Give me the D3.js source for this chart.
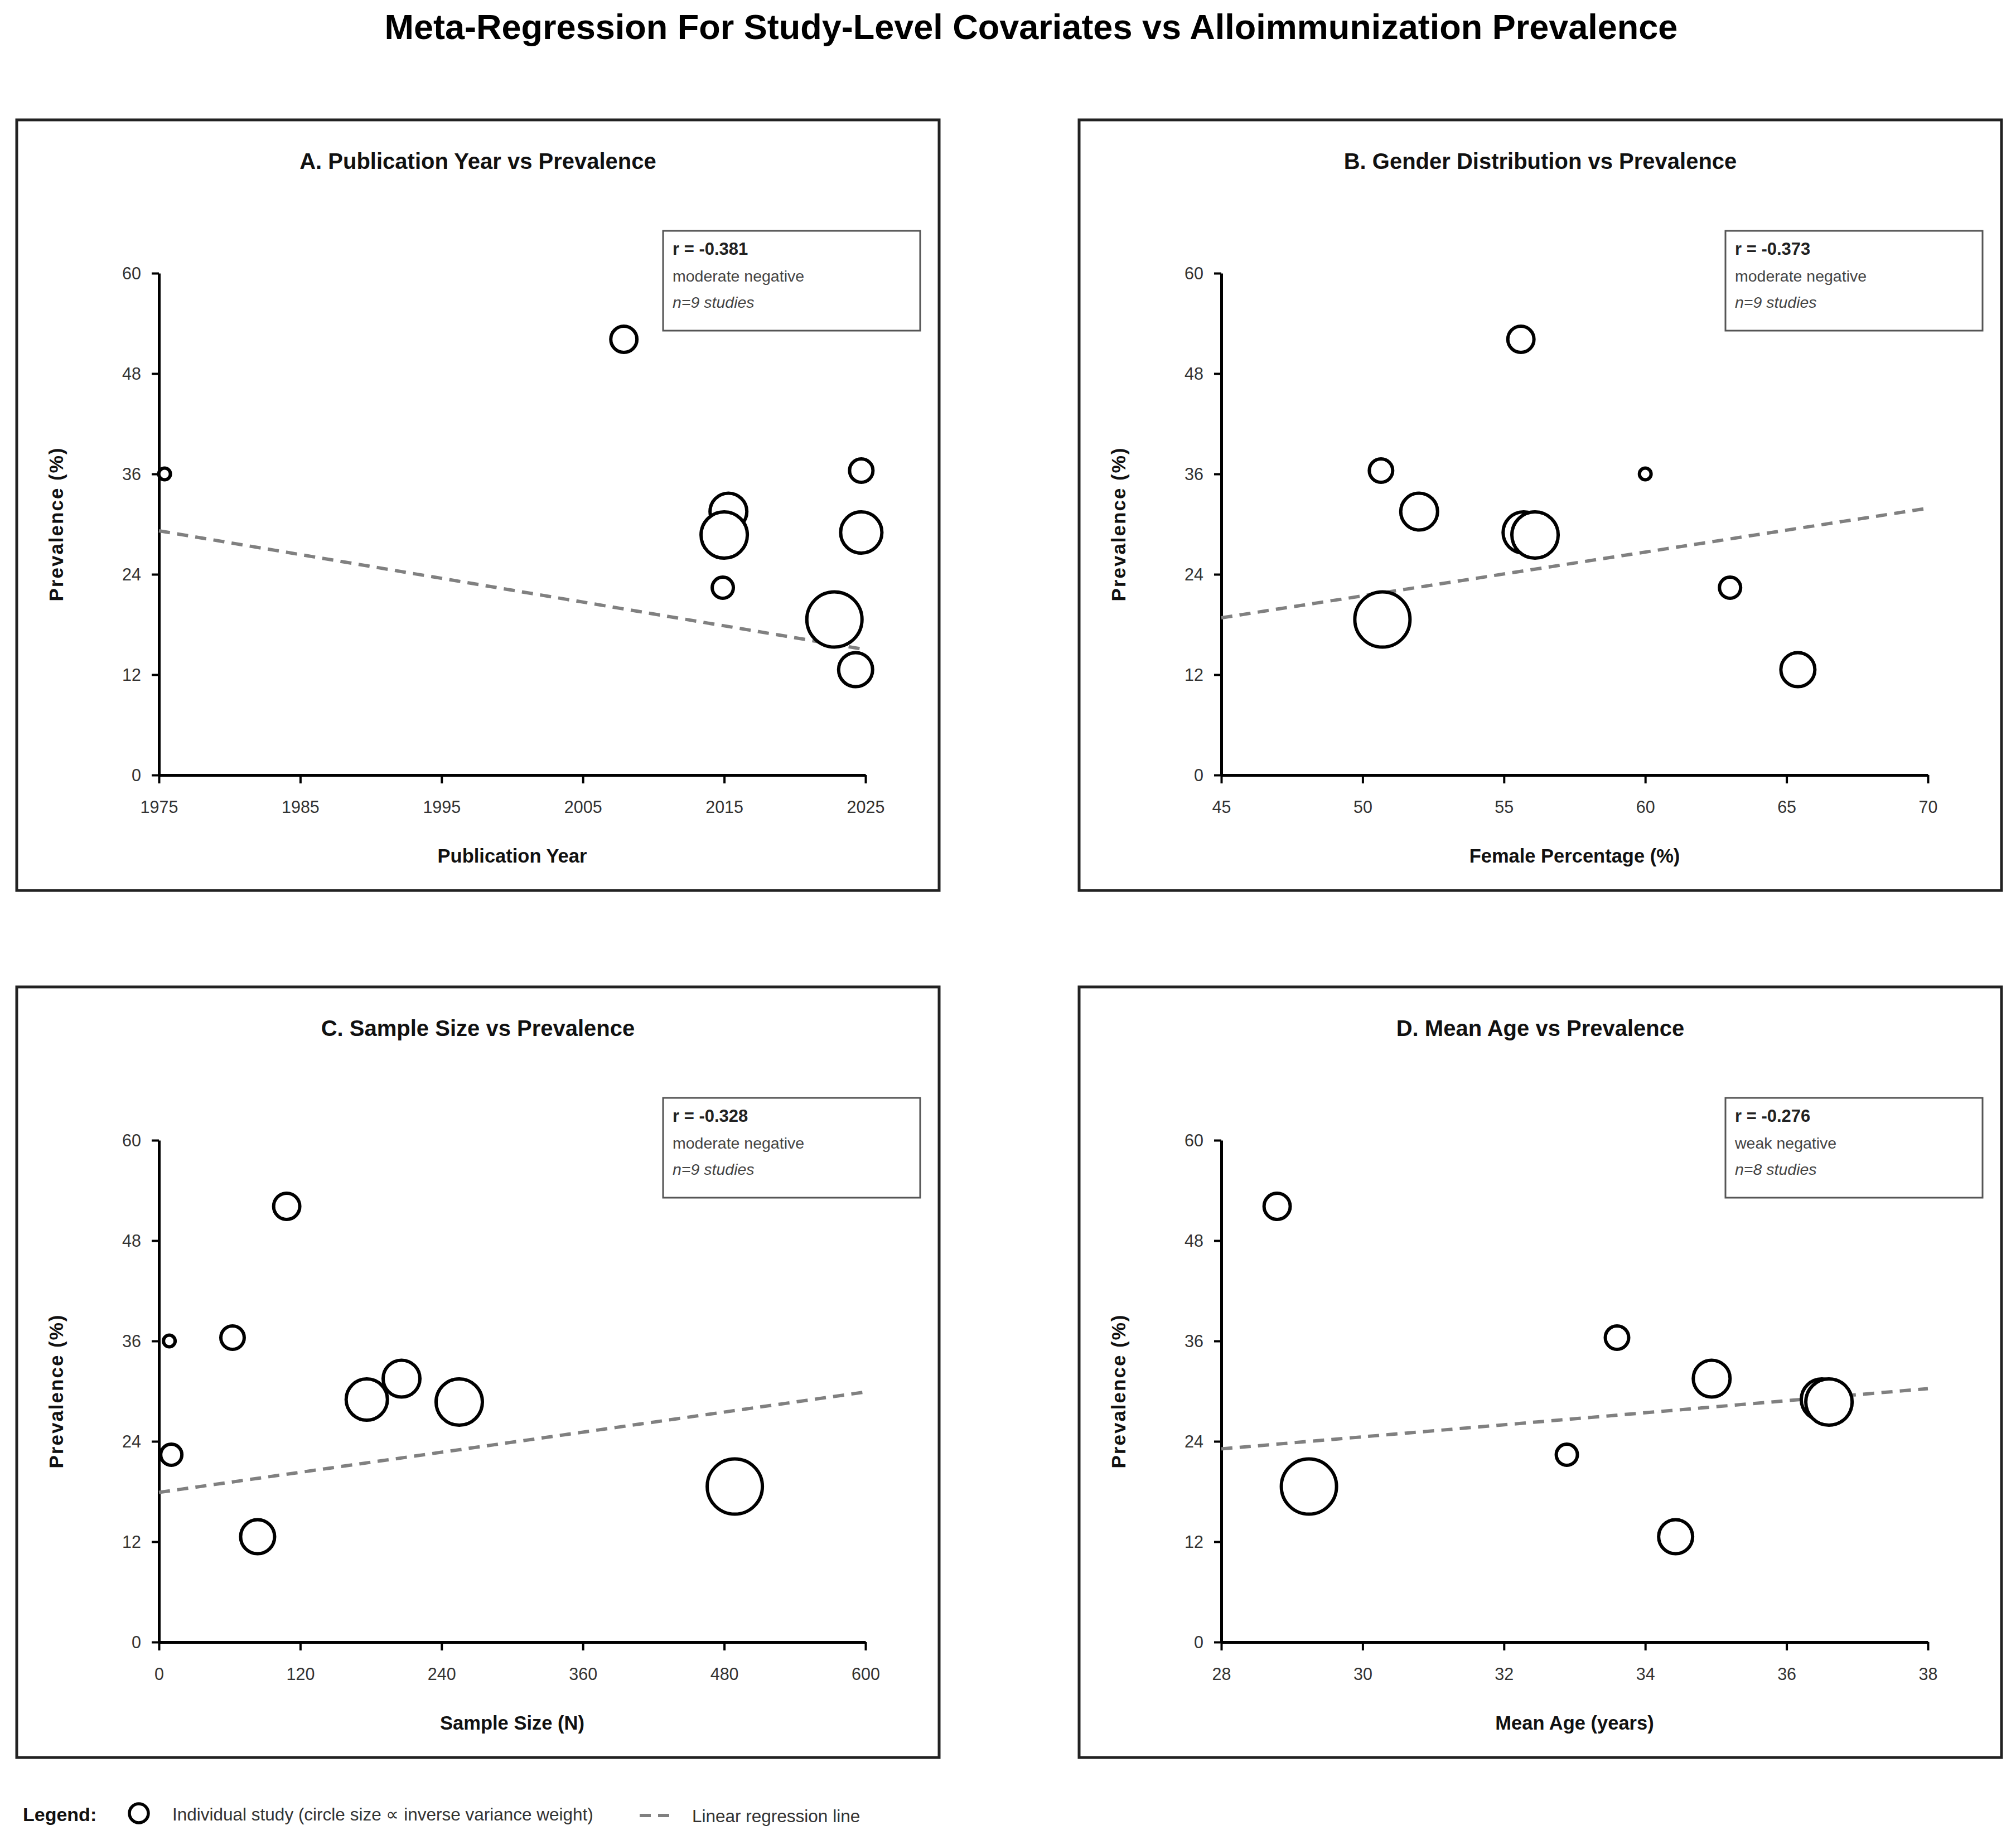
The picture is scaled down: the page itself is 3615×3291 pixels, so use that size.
<!DOCTYPE html>
<html>
<head>
<meta charset="utf-8">
<script src="https://cdn.jsdelivr.net/npm/d3@7/dist/d3.min.js"></script>
<style>
  body { margin: 0; background: #ffffff; }
  svg { display: block; }
</style>
</head>
<body>
<div id="chart"></div>
<script>
// ---------------- DATA ----------------
const mainTitle = "Meta-Regression For Study-Level Covariates vs Alloimmunization Prevalence";

const studies      = ["Study 1", "Study 2", "Study 3", "Study 4", "Study 5", "Study 6", "Study 7", "Study 8", "Study 9"];
const prevalence   = [36.0, 52.1, 31.5, 28.7, 22.4, 36.4, 29.0, 18.6, 12.6];
const ivWeight     = [4.4, 22, 43.6, 69, 14.4, 17.6, 54.8, 98, 37.2];
const pubYear      = [1975.4, 2007.9, 2015.3, 2015.0, 2014.9, 2024.7, 2024.7, 2022.8, 2024.3];
const femalePct    = [60.0, 55.6, 52.0, 56.1, 63.0, 50.65, 55.7, 50.7, 65.4];
const sampleSize   = [8.8, 108.5, 206, 255, 10.5, 62.5, 176.5, 489, 83.8];
const meanAge      = [null, 28.79, 34.94, 36.6, 32.89, 33.6, 36.5, 29.24, 34.43];

const panelTitles  = ["A. Publication Year vs Prevalence", "B. Gender Distribution vs Prevalence",
                      "C. Sample Size vs Prevalence", "D. Mean Age vs Prevalence"];
const xLabels      = ["Publication Year", "Female Percentage (%)", "Sample Size (N)", "Mean Age (years)"];
const xDomains     = [[1975, 2025], [45, 70], [0, 600], [28, 38]];
const xTickValues  = [[1975, 1985, 1995, 2005, 2015, 2025], [45, 50, 55, 60, 65, 70],
                      [0, 120, 240, 360, 480, 600], [28, 30, 32, 34, 36, 38]];
const yTickValues  = [0, 12, 24, 36, 48, 60];
const yLabel       = "Prevalence (%)";

// regression line: fitted prevalence at the start and the end of each x domain
const regStart     = [29.2, 18.8, 17.9, 23.1];
const regEnd       = [15.0, 31.9, 29.9, 30.3];

const rLabels      = ["r = -0.381", "r = -0.373", "r = -0.328", "r = -0.276"];
const strengths    = ["moderate negative", "moderate negative", "moderate negative", "weak negative"];
const nLabels      = ["n=9 studies", "n=9 studies", "n=9 studies", "n=8 studies"];

const legendTitle  = "Legend:";
const legendCircle = "Individual study (circle size \u221D inverse variance weight)";
const legendLine   = "Linear regression line";

const xValuesByPanel = [pubYear, femalePct, sampleSize, meanAge];

// ---------------- LAYOUT ----------------
const W = 3615, H = 3291;
const FONT = "'Liberation Sans', Arial, Helvetica, sans-serif";
const frameXs = [30, 1935], frameYs = [215, 1770];
const frameW = 1654, frameH = 1382;
const plotL = 255, plotR = 1522, plotT = 275, plotB = 1175;

const svg = d3.select("#chart").append("svg")
  .attr("width", W).attr("height", H)
  .attr("viewBox", `0 0 ${W} ${H}`);

svg.append("rect").attr("width", W).attr("height", H).attr("fill", "#ffffff");

svg.append("text")
  .attr("x", 1849).attr("y", 70)
  .attr("text-anchor", "middle")
  .style("font-family", FONT).style("font-weight", "bold").style("font-size", "63px")
  .attr("fill", "#000")
  .text(mainTitle);

const rScale = d3.scaleSqrt().domain([0, 100]).range([0, 50]);
const yScale = d3.scaleLinear().domain([0, 60]).range([plotB, plotT]);

panelTitles.forEach((title, i) => {
  const fx = frameXs[i % 2], fy = frameYs[Math.floor(i / 2)];
  const g = svg.append("g").attr("transform", `translate(${fx},${fy})`);

  g.append("rect")
    .attr("x", 0).attr("y", 0).attr("width", frameW).attr("height", frameH)
    .attr("fill", "#fff").attr("stroke", "#222").attr("stroke-width", 5);

  g.append("text")
    .attr("x", frameW / 2).attr("y", 88)
    .attr("text-anchor", "middle")
    .style("font-family", FONT).style("font-weight", "bold").style("font-size", "40px")
    .attr("fill", "#111")
    .text(title);

  const x = d3.scaleLinear().domain(xDomains[i]).range([plotL, plotR]);

  // axes
  const xa = g.append("g").attr("transform", `translate(0,${plotB})`)
    .call(d3.axisBottom(x).tickValues(xTickValues[i]).tickSize(15).tickSizeOuter(0).tickFormat(d3.format("d")));
  xa.select(".domain").attr("stroke", "#000").attr("stroke-width", 5);
  xa.selectAll(".tick line").attr("stroke", "#000").attr("stroke-width", 4);
  xa.selectAll(".tick text")
    .attr("y", 68).attr("dy", null)
    .attr("fill", "#333")
    .style("font-family", FONT).style("font-size", "30.5px");

  const ya = g.append("g").attr("transform", `translate(${plotL},0)`)
    .call(d3.axisLeft(yScale).tickValues(yTickValues).tickSize(13).tickSizeOuter(0));
  ya.select(".domain").attr("stroke", "#000").attr("stroke-width", 5);
  ya.selectAll(".tick line").attr("stroke", "#000").attr("stroke-width", 4);
  ya.selectAll(".tick text")
    .attr("x", -32).attr("dy", "0.35em")
    .attr("fill", "#333")
    .style("font-family", FONT).style("font-size", "30.5px");

  // axis titles
  g.append("text")
    .attr("x", (plotL + plotR) / 2).attr("y", 1332)
    .attr("text-anchor", "middle")
    .style("font-family", FONT).style("font-weight", "bold").style("font-size", "34.5px")
    .attr("fill", "#111")
    .text(xLabels[i]);

  g.append("text")
    .attr("transform", `translate(83,${(plotT + plotB) / 2}) rotate(-90)`)
    .attr("text-anchor", "middle")
    .style("font-family", FONT).style("font-weight", "bold").style("font-size", "35px")
    .style("letter-spacing", "2px")
    .attr("fill", "#111")
    .text(yLabel);

  // regression line
  g.append("line")
    .attr("x1", x(xDomains[i][0])).attr("y1", yScale(regStart[i]))
    .attr("x2", x(xDomains[i][1])).attr("y2", yScale(regEnd[i]))
    .attr("stroke", "#808080").attr("stroke-width", 6)
    .attr("stroke-dasharray", "20,13");

  // study circles (larger weights drawn on top)
  const xv = xValuesByPanel[i];
  const pts = studies.map((s, j) => ({ s, xv: xv[j], yv: prevalence[j], w: ivWeight[j] }))
    .filter(d => d.xv !== null)
    .sort((a, b) => a.w - b.w);
  g.selectAll("circle.study").data(pts).enter().append("circle")
    .attr("class", "study")
    .attr("cx", d => x(d.xv)).attr("cy", d => yScale(d.yv))
    .attr("r", d => rScale(d.w))
    .attr("fill", "#fff").attr("stroke", "#000").attr("stroke-width", 6);

  // stats box
  const bx = 1159, by = 199;
  g.append("rect")
    .attr("x", bx).attr("y", by).attr("width", 461).attr("height", 179)
    .attr("fill", "#fff").attr("stroke", "#555").attr("stroke-width", 3);
  g.append("text")
    .attr("x", bx + 17).attr("y", by + 43)
    .style("font-family", FONT).style("font-weight", "bold").style("font-size", "31px")
    .attr("fill", "#222").text(rLabels[i]);
  g.append("text")
    .attr("x", bx + 17).attr("y", by + 91)
    .style("font-family", FONT).style("font-size", "28.5px")
    .attr("fill", "#444").text(strengths[i]);
  g.append("text")
    .attr("x", bx + 17).attr("y", by + 138)
    .style("font-family", FONT).style("font-style", "italic").style("font-size", "28.5px")
    .attr("fill", "#444").text(nLabels[i]);
});

// ---------------- LEGEND ----------------
const lg = svg.append("g");
lg.append("text")
  .attr("x", 41).attr("y", 3266)
  .style("font-family", FONT).style("font-weight", "bold").style("font-size", "34px")
  .attr("fill", "#111").text(legendTitle);
lg.append("circle")
  .attr("cx", 249).attr("cy", 3252).attr("r", 17)
  .attr("fill", "#fff").attr("stroke", "#000").attr("stroke-width", 5.5);
lg.append("text")
  .attr("x", 309).attr("y", 3265)
  .style("font-family", FONT).style("font-size", "31.5px")
  .attr("fill", "#333").text(legendCircle);
lg.append("line")
  .attr("x1", 1147).attr("y1", 3256).attr("x2", 1200).attr("y2", 3256)
  .attr("stroke", "#808080").attr("stroke-width", 6).attr("stroke-dasharray", "20,13");
lg.append("text")
  .attr("x", 1241).attr("y", 3268)
  .style("font-family", FONT).style("font-size", "31.5px")
  .attr("fill", "#333").text(legendLine);
</script>
</body>
</html>
